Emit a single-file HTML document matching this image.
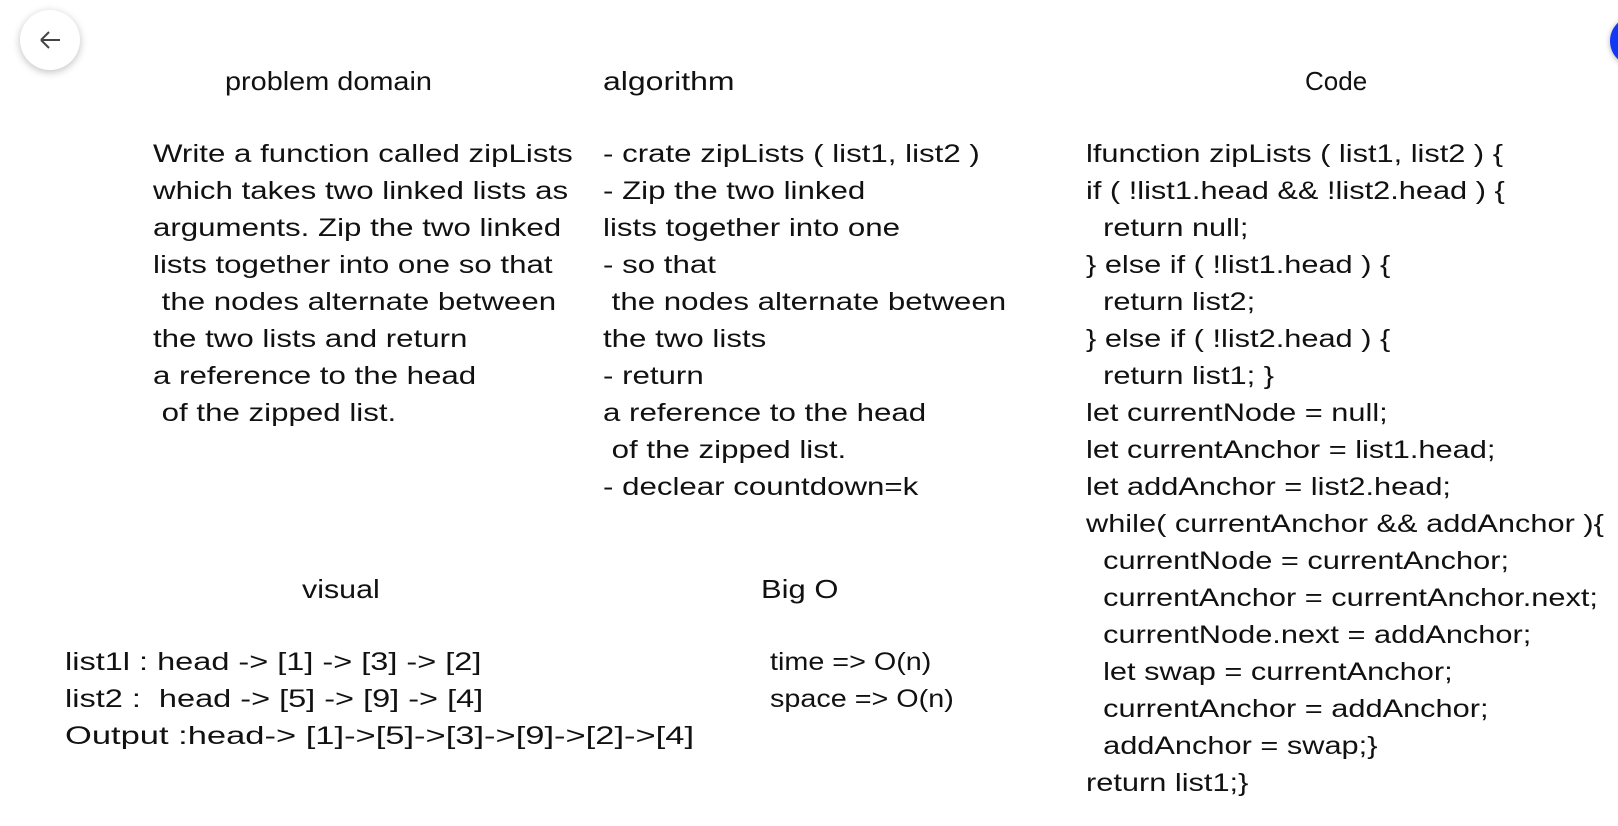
<!DOCTYPE html>
<html><head><meta charset="utf-8"><style>
html,body{margin:0;padding:0;background:#fff;width:1618px;height:826px;overflow:hidden;position:relative;font-family:"Liberation Sans",sans-serif;color:#111;}
.t{position:absolute;font-size:25px;line-height:37px;white-space:pre;transform-origin:0 0;transform:scaleX(1.25);}
.h{position:absolute;font-size:26px;white-space:pre;line-height:30px;transform-origin:0 0;}
.back{position:absolute;left:20px;top:10px;width:60px;height:60px;border-radius:50%;background:#fff;box-shadow:0 2px 8px rgba(0,0,0,.25);}
.blue{position:absolute;left:1610px;top:16px;width:50px;height:50px;border-radius:50%;background:#1238f5;box-shadow:0 1px 6px rgba(0,0,0,.3);}
</style></head><body>
<div class="back"><svg width="60" height="60" viewBox="0 0 60 60"><path d="M21 30H40M21 30l8-8M21 30l8 8" stroke="#444" stroke-width="2" fill="none"/></svg></div>
<div class="blue"></div>
<div class="h" style="left:225px;top:66px;transform:scaleX(1.11)">problem domain</div>
<div class="h" style="left:603px;top:66px;transform:scaleX(1.23)">algorithm</div>
<div class="h" style="left:1305px;top:66px">Code</div>
<div class="t" style="left:153px;top:136px">Write a function called zipLists
which takes two linked lists as
arguments. Zip the two linked
lists together into one so that
 the nodes alternate between
the two lists and return
a reference to the head
 of the zipped list.</div>
<div class="t" style="left:603px;top:136px">- crate zipLists ( list1, list2 )
- Zip the two linked
lists together into one
- so that
 the nodes alternate between
the two lists
- return
a reference to the head
 of the zipped list.
- declear countdown=k</div>
<div class="t" style="left:1086px;top:136px;transform:scaleX(1.23)">lfunction zipLists ( list1, list2 ) {
if ( !list1.head &amp;&amp; !list2.head ) {
  return null;
} else if ( !list1.head ) {
  return list2;
} else if ( !list2.head ) {
  return list1; }
let currentNode = null;
let currentAnchor = list1.head;
let addAnchor = list2.head;
while( currentAnchor &amp;&amp; addAnchor ){
  currentNode = currentAnchor;
  currentAnchor = currentAnchor.next;
  currentNode.next = addAnchor;
  let swap = currentAnchor;
  currentAnchor = addAnchor;
  addAnchor = swap;}
return list1;}</div>
<div class="h" style="left:302px;top:574px;transform:scaleX(1.17)">visual</div>
<div class="h" style="left:761px;top:574px;transform:scaleX(1.19)">Big O</div>
<div class="t" style="left:65px;top:644px;transform:scaleX(1.3)">list1l : head -&gt; [1] -&gt; [3] -&gt; [2]
list2 :  head -&gt; [5] -&gt; [9] -&gt; [4]</div>
<div class="t" style="left:65px;top:718px;transform:scaleX(1.38)">Output :head-&gt; [1]-&gt;[5]-&gt;[3]-&gt;[9]-&gt;[2]-&gt;[4]</div>
<div class="t" style="left:770px;top:644px;transform:scaleX(1.15)">time =&gt; O(n)
space =&gt; O(n)</div>
</body></html>
